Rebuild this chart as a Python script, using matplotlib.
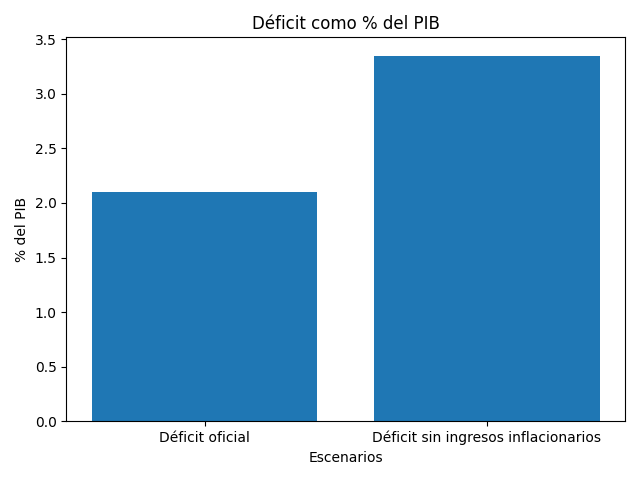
import matplotlib
matplotlib.use("Agg")
import matplotlib.pyplot as plt

categories = ["Déficit oficial", "Déficit sin ingresos inflacionarios"]
values = [2.1, 3.35]

fig, ax = plt.subplots(figsize=(6.4, 4.8), dpi=100)
ax.bar(categories, values, color="#1f77b4")
ax.set_title("Déficit como % del PIB")
ax.set_xlabel("Escenarios")
ax.set_ylabel("% del PIB")
fig.tight_layout()
fig.savefig("out.png")
